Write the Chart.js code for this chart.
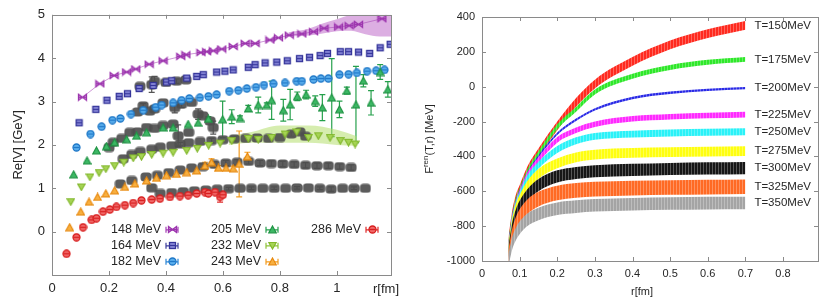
<!DOCTYPE html>
<html>
<head>
<meta charset="utf-8">
<script src="https://cdn.jsdelivr.net/npm/chart.js@4.4.1/dist/chart.umd.min.js"></script>
<style>
  html, body { margin: 0; padding: 0; background: #fff; }
  #wrap { position: relative; width: 830px; height: 303px; overflow: hidden; }
  canvas { position: absolute; top: 0; }
  #left { left: 0; }
  #right { left: 410px; }
</style>
</head>
<body>
<div id="wrap">
  <canvas id="left" width="410" height="303"></canvas>
  <canvas id="right" width="420" height="303"></canvas>
</div>
<script>
// ---------- left panel: Re[V] (GeV) vs r (fm) ----------
const r148 = [0.107,0.168,0.218,0.262,0.294,0.341,0.39,0.452,0.47,0.523,0.543,0.566,0.596,0.636,0.678,0.713,0.765,0.795,0.833,0.877,0.918,0.955,1.006,1.043,1.076,1.158];
const v148 = [3.10,3.41,3.60,3.68,3.75,3.86,3.94,4.04,4.08,4.13,4.15,4.17,4.21,4.27,4.34,4.34,4.42,4.47,4.53,4.56,4.61,4.69,4.72,4.75,4.78,4.91];

const r164 = [0.095,0.154,0.193,0.236,0.265,0.306,0.355,0.402,0.42,0.473,0.508,0.531,0.578,0.607,0.636,0.689,0.713,0.748,0.789,0.826,0.869,0.904,0.941,0.967,1.012,1.041,1.076,1.115,1.152,1.187];
const v164 = [2.51,2.82,3.03,3.12,3.18,3.30,3.37,3.45,3.48,3.54,3.58,3.62,3.68,3.70,3.73,3.79,3.85,3.89,3.91,3.94,3.99,4.02,4.06,4.11,4.15,4.15,4.14,4.11,4.24,4.32];

const r182 = [0.086,0.135,0.174,0.212,0.24,0.277,0.32,0.364,0.385,0.425,0.455,0.482,0.519,0.549,0.578,0.622,0.654,0.684,0.716,0.744,0.777,0.818,0.859,0.877,0.918,0.944,0.97,1.009,1.041,1.07,1.106,1.138,1.167];
const v182 = [1.94,2.25,2.42,2.57,2.61,2.71,2.80,2.87,2.92,2.97,3.03,3.07,3.09,3.12,3.16,3.24,3.26,3.30,3.33,3.38,3.41,3.43,3.47,3.47,3.51,3.53,3.53,3.62,3.63,3.66,3.70,3.71,3.73];

const r205 = [0.076,0.123,0.156,0.191,0.22,0.262,0.297,0.332,0.39,0.425,0.478,0.513,0.549,0.599,0.631,0.66,0.689,0.724,0.754,0.771,0.812,0.836,0.861,0.892,0.924,0.949,0.982,1.009,1.035,1.067,1.093,1.12,1.152,1.179];
const v205 = [1.32,1.64,1.87,1.97,2.06,2.13,2.21,2.29,2.40,2.40,2.48,2.51,2.60,2.59,2.65,2.62,2.84,2.92,2.92,3.03,2.80,2.93,3.12,3.16,3.01,2.86,3.09,2.82,3.25,2.93,3.48,2.97,3.68,3.28];
const e205 = [0,0,0,0,0,0,0,0,0,0,0,0,0.05,0.42,0.16,0.05,0.07,0.18,0.05,0.44,0.25,0.35,0.10,0.10,0.12,0.30,0.90,0.19,0.08,0.88,0.14,0.28,0.17,0.18];

const r232 = [0.066,0.103,0.133,0.165,0.189,0.22,0.252,0.285,0.314,0.35,0.39,0.425,0.473,0.51,0.55,0.59,0.631,0.689,0.724,0.771,0.818,0.859,0.9,0.935,0.976,1.012,1.041,1.064];
const v232 = [0.69,1.03,1.26,1.36,1.45,1.52,1.60,1.70,1.73,1.78,1.81,1.83,1.87,1.92,1.99,2.04,2.10,2.15,2.13,2.17,2.25,2.30,2.17,2.21,2.17,2.10,2.06,2.02];

const r243 = [0.062,0.101,0.130,0.160,0.189,0.22,0.256,0.291,0.332,0.367,0.402,0.437,0.473,0.508,0.537,0.56,0.584,0.611,0.636,0.657,0.686];
const v243 = [0.10,0.46,0.69,0.80,0.88,0.95,1.03,1.11,1.18,1.24,1.30,1.33,1.37,1.41,1.52,1.60,1.47,1.47,1.46,1.56,1.73];
const e243 = [0,0,0,0,0,0,0,0,0,0,0,0,0,0,0.08,0.08,0.05,0.05,0.05,0.76,0.10];

const r286 = [0.051,0.086,0.109,0.139,0.156,0.179,0.203,0.226,0.256,0.285,0.314,0.35,0.379,0.414,0.449,0.478,0.508,0.537,0.549,0.572,0.59,0.60];
const v286 = [-0.51,-0.13,0.10,0.27,0.31,0.46,0.51,0.57,0.61,0.66,0.72,0.74,0.76,0.80,0.82,0.84,0.88,0.91,0.88,0.91,0.80,0.85];
const e286 = [0,0,0,0,0,0,0,0,0,0,0,0,0,0,0,0,0,0,0,0,0.12,0.05];

// grey comparison points (no key entry)
const grayR1 = [0.309,0.35,0.36,0.40,0.437,0.47];
const grayV1 = [3.35,3.39,3.47,3.44,3.47,3.50];
const grayE1 = [0,0.18,0.11,0,0.05,0];
const grayR2 = [0.30,0.32,0.343,0.36,0.39,0.431,0.455,0.49];
const grayV2 = [2.76,2.90,2.78,2.83,2.97,2.86,2.94,2.98];
const grayE2 = [0,0.05,0,0,0,0.12,0.08,0];
const grayR3 = [0.20,0.215,0.245,0.273,0.30,0.332,0.36,0.39,0.425,0.443,0.48,0.513,0.53,0.555,0.566];
const grayV3 = [1.94,2.06,2.15,2.29,2.30,2.40,2.38,2.45,2.48,2.21,2.29,2.71,2.67,2.55,2.40];
const grayE3 = [0,0,0,0,0,0,0,0,0,0.25,0,0.12,0,0,0.15];
const grayR4 = [0.25,0.28,0.31,0.35,0.38,0.42,0.45,0.48,0.52,0.56,0.60,0.64,0.68,0.72,0.76,0.80,0.84,0.87,0.89];
const grayV4 = [1.68,1.78,1.85,1.90,1.95,1.98,2.02,2.05,2.08,2.10,2.12,2.14,2.15,2.16,2.15,2.17,2.25,2.30,2.20];
const grayE4 = [0,0,0,0,0,0,0.04,0,0,0.05,0,0.05,0,0.04,0,0,0.05,0,0];
const grayR5 = [0.24,0.28,0.33,0.37,0.41,0.45,0.49,0.53,0.57,0.61,0.65,0.69,0.73,0.77,0.81,0.85,0.89,0.93,0.97,1.01,1.05];
const grayV5 = [1.10,1.18,1.26,1.30,1.36,1.42,1.47,1.50,1.55,1.58,1.60,1.62,1.58,1.57,1.56,1.55,1.53,1.52,1.52,1.50,1.48];
const grayE5 = [0,0,0,0,0,0,0,0.06,0.06,0.06,0.06,0.06,0.06,0.06,0.06,0.06,0.06,0.06,0.06,0.06,0.06];
const grayR6 = [0.35,0.38,0.42,0.46,0.50,0.54,0.58,0.62,0.66,0.70,0.74,0.78,0.82,0.86,0.90,0.94,0.98,1.02,1.06,1.10];
const grayV6 = [1.01,0.88,0.90,0.92,0.94,0.96,0.98,0.99,1.00,1.00,1.00,1.00,1.00,1.01,1.01,1.00,0.98,1.00,1.00,1.00];
const grayE6 = [0,0,0,0,0,0,0,0.03,0,0.03,0,0.03,0,0.03,0,0.03,0.05,0,0.03,0];

// shaded error bands
const rBand148  = [0.83,0.90,0.95,1.00,1.05,1.10,1.15,1.19];
const hiBand148 = [4.60,4.68,4.80,4.90,5.00,5.05,5.10,5.10];
const loBand148 = [4.50,4.52,4.57,4.62,4.63,4.55,4.50,4.50];
const rBand232  = [0.62,0.70,0.80,0.90,1.00,1.07];
const hiBand232 = [2.20,2.30,2.45,2.45,2.35,2.20];
const loBand232 = [2.00,2.05,2.05,2.05,2.00,1.98];

// ---------- right panel: F_ren(T,r) (MeV) vs r (fm) ----------
const rF = [0.07,0.08,0.09,0.10,0.12,0.15,0.20,0.25,0.30,0.40,0.50,0.60,0.70];
const F150 = [-900,-740,-645,-590,-485,-380,-225,-90,15,145,240,305,352];
const F175 = [-905,-745,-650,-595,-490,-385,-230,-130,-30,60,110,140,157];
const F200 = [-910,-750,-660,-600,-500,-400,-270,-190,-130,-65,-35,-18,-8];
const F225 = [-920,-760,-670,-610,-510,-420,-305,-250,-215,-184,-172,-165,-160];
const F250 = [-930,-770,-680,-625,-530,-450,-360,-310,-285,-272,-265,-261,-258];
const F275 = [-940,-790,-700,-650,-570,-500,-440,-405,-390,-380,-375,-372,-370];
const F300 = [-960,-820,-740,-690,-625,-565,-515,-495,-485,-477,-472,-469,-467];
const F325 = [-980,-860,-790,-745,-690,-645,-610,-595,-588,-582,-578,-576,-574];
const F350 = [-1000,-900,-845,-810,-765,-730,-700,-688,-680,-674,-670,-668,-667];
const tempsF = [150,175,200,225,250,275,300,325,350];
const halfWidthF = [25,14,7,16,20,28,35,42,36];

const FONT = "'Liberation Sans', Arial, Helvetica, sans-serif";
const TXT = "#262626";

// marker images
function makeMarker(w, h, draw) {
  const c = document.createElement("canvas");
  c.width = w; c.height = h;
  const g = c.getContext("2d");
  draw(g, w, h);
  return c;
}
const mkBow = (col, fill) => makeMarker(11, 9, g => {
  g.strokeStyle = col; g.fillStyle = fill; g.lineWidth = 1.3;
  g.beginPath(); g.moveTo(1.5, 1.5); g.lineTo(9.5, 7.5); g.lineTo(9.5, 1.5); g.lineTo(1.5, 7.5); g.closePath();
  g.fill(); g.stroke();
  g.beginPath(); g.moveTo(1.5, 4.5); g.lineTo(9.5, 4.5); g.stroke();
});
const mkSquare = (col, fill) => makeMarker(9, 9, g => {
  g.fillStyle = fill; g.fillRect(1, 1, 7, 7);
  g.strokeStyle = col; g.lineWidth = 1.3; g.strokeRect(1.5, 1.5, 6, 6);
  g.beginPath(); g.moveTo(2, 4.5); g.lineTo(7, 4.5); g.stroke();
});
const mkCircle = (col, fill) => makeMarker(9, 9, g => {
  g.fillStyle = fill; g.strokeStyle = col; g.lineWidth = 1.3;
  g.beginPath(); g.arc(4.5, 4.5, 3.5, 0, Math.PI * 2); g.fill(); g.stroke();
  g.beginPath(); g.moveTo(1.5, 4.5); g.lineTo(7.5, 4.5); g.stroke();
});
const mkTriUp = (col, fill) => makeMarker(9, 9, g => {
  g.fillStyle = fill; g.strokeStyle = col; g.lineWidth = 1.2;
  g.beginPath(); g.moveTo(4.5, 1); g.lineTo(8.2, 7.8); g.lineTo(0.8, 7.8); g.closePath(); g.fill(); g.stroke();
});
const mkTriDown = (col, fill) => makeMarker(9, 9, g => {
  g.fillStyle = fill; g.strokeStyle = col; g.lineWidth = 1.2;
  g.beginPath(); g.moveTo(0.8, 1.5); g.lineTo(8.2, 1.5); g.lineTo(4.5, 8); g.closePath(); g.fill(); g.stroke();
});
const mkGray = makeMarker(12, 10, g => {
  g.fillStyle = "rgba(78,78,78,0.92)";
  g.beginPath(); g.roundRect(0.5, 0.5, 11, 9, 3.5); g.fill();
});

const pts = (r, v) => r.map((x, i) => ({ x, y: v[i] }));

const leftSeries = [
  { label: "286 MeV", r: r286, v: v286, e: e286, color: "#e02a2a", marker: mkCircle("#d81e1e", "#f26a6a") },
  { label: "243 MeV", r: r243, v: v243, e: e243, color: "#f39c1f", marker: mkTriUp("#e8890e", "#f8b040") },
  { label: "232 MeV", r: r232, v: v232, e: null, color: "#8fc43a", marker: mkTriDown("#82b82c", "#a6d454") },
  { label: "205 MeV", r: r205, v: v205, e: e205, color: "#26a04c", marker: mkTriUp("#1f9444", "#3cb864") },
  { label: "182 MeV", r: r182, v: v182, e: null, color: "#2b86d6", marker: mkCircle("#1f78c8", "#5cb0ee") },
  { label: "164 MeV", r: r164, v: v164, e: null, color: "#3c3c9c", marker: mkSquare("#35359a", "#8c8cdc") },
  { label: "148 MeV", r: r148, v: v148, e: null, color: "#a53fb5", marker: mkBow("#9c34ae", "rgba(200,130,210,0.7)"), line: true }
];
const grayGroups = [
  [grayR1, grayV1, grayE1], [grayR2, grayV2, grayE2], [grayR3, grayV3, grayE3],
  [grayR4, grayV4, grayE4], [grayR5, grayV5, grayE5], [grayR6, grayV6, grayE6]
];

const leftDatasets = [];
leftSeries.forEach(s => {
  leftDatasets.push({
    label: s.label, data: pts(s.r, s.v), errors: s.e, errColor: s.color,
    showLine: !!s.line, borderColor: s.color + "b0", borderWidth: 0.8,
    pointStyle: s.marker, pointRadius: 4
  });
});
grayGroups.forEach(([r, v, e]) => {
  leftDatasets.push({ data: pts(r, v), errors: e, errColor: "#555", showLine: false, pointStyle: mkGray, pointRadius: 4 });
});
// bands (bottom-most)
[[rBand232, hiBand232, loBand232, "rgba(180,222,110,0.55)"], [rBand148, hiBand148, loBand148, "rgba(196,120,206,0.6)"]].forEach(([r, hi, lo, col]) => {
  leftDatasets.push({ data: pts(r, hi), pointRadius: 0, borderWidth: 0, borderColor: "transparent", cubicInterpolationMode: "monotone", showLine: true });
  leftDatasets.push({ data: pts(r, lo), pointRadius: 0, borderWidth: 0, borderColor: "transparent", cubicInterpolationMode: "monotone", showLine: true, fill: "-1", backgroundColor: col });
});

// draws vertical error bars under the markers
const errorBars = {
  id: "errorBars",
  beforeDatasetsDraw(chart) {
    const { ctx, chartArea: a, scales: { x, y } } = chart;
    ctx.save();
    ctx.beginPath(); ctx.rect(a.left, a.top, a.width, a.height); ctx.clip();
    chart.data.datasets.forEach(ds => {
      if (!ds.errors) return;
      ctx.strokeStyle = ds.errColor; ctx.lineWidth = 1.2;
      ds.data.forEach((p, i) => {
        const e = ds.errors[i];
        if (!e) return;
        const px = x.getPixelForValue(p.x);
        const y1 = y.getPixelForValue(p.y - e), y2 = y.getPixelForValue(p.y + e);
        ctx.beginPath();
        ctx.moveTo(px, y1); ctx.lineTo(px, y2);
        ctx.moveTo(px - 3, y1); ctx.lineTo(px + 3, y1);
        ctx.moveTo(px - 3, y2); ctx.lineTo(px + 3, y2);
        ctx.stroke();
      });
    });
    ctx.restore();
  }
};

// box round the plot with inward ticks on all four sides
const frame = {
  id: "frame",
  afterDatasetsDraw(chart) {
    const { ctx, chartArea: a, scales: { x, y } } = chart;
    ctx.save();
    ctx.strokeStyle = "#8a8a8a"; ctx.lineWidth = 1;
    ctx.strokeRect(Math.round(a.left) + 0.5, Math.round(a.top) + 0.5, Math.round(a.width), Math.round(a.height));
    ctx.beginPath();
    x.ticks.forEach(t => {
      const px = Math.round(x.getPixelForValue(t.value)) + 0.5;
      ctx.moveTo(px, a.bottom); ctx.lineTo(px, a.bottom - 4);
      ctx.moveTo(px, a.top); ctx.lineTo(px, a.top + 4);
    });
    y.ticks.forEach(t => {
      const py = Math.round(y.getPixelForValue(t.value)) + 0.5;
      ctx.moveTo(a.left, py); ctx.lineTo(a.left + 4, py);
      ctx.moveTo(a.right, py); ctx.lineTo(a.right - 4, py);
    });
    ctx.stroke();
    ctx.restore();
  }
};

const leftText = {
  id: "leftText",
  afterDraw(chart) {
    const { ctx, chartArea: a } = chart;
    ctx.save();
    ctx.fillStyle = TXT;
    ctx.font = "13px " + FONT;
    ctx.textBaseline = "middle";
    ctx.textAlign = "center";
    ctx.fillText("r[fm]", a.right - 5, 289);
    ctx.translate(18, (a.top + a.bottom) / 2);
    ctx.rotate(-Math.PI / 2);
    ctx.fillText("Re[V] [GeV]", 0, 0);
    ctx.restore();

    // key: three columns
    const order = ["148 MeV", "164 MeV", "182 MeV", "205 MeV", "232 MeV", "243 MeV", "286 MeV"];
    ctx.save();
    ctx.font = "12.5px " + FONT;
    ctx.textBaseline = "middle";
    order.forEach((lab, k) => {
      const s = leftSeries.find(q => q.label === lab);
      const col = Math.floor(k / 3), row = k % 3;
      const tx = a.left + 59 + col * 100, ty = a.top + 215 + row * 16;
      ctx.fillStyle = TXT;
      ctx.fillText(lab, tx, ty);
      const mx = a.left + 120 + col * 100;
      ctx.strokeStyle = s.color; ctx.lineWidth = 1.2;
      ctx.beginPath();
      ctx.moveTo(mx - 6, ty); ctx.lineTo(mx + 6, ty);
      ctx.moveTo(mx - 6, ty - 3); ctx.lineTo(mx - 6, ty + 3);
      ctx.moveTo(mx + 6, ty - 3); ctx.lineTo(mx + 6, ty + 3);
      ctx.stroke();
      ctx.drawImage(s.marker, Math.round(mx - s.marker.width / 2), Math.round(ty - s.marker.height / 2));
    });
    ctx.restore();
  }
};

const fmt1 = v => String(Number(v.toFixed(1)));

new Chart(document.getElementById("left"), {
  type: "line",
  data: { datasets: leftDatasets },
  options: {
    responsive: false, animation: false, devicePixelRatio: 1,
    layout: { padding: { top: 13, right: 19, left: 0, bottom: 0 } },
    plugins: { legend: { display: false }, tooltip: { enabled: false } },
    scales: {
      x: {
        type: "linear", min: 0, max: 1.19,
        ticks: { stepSize: 0.2, includeBounds: false, padding: 6, color: TXT, font: { family: FONT, size: 13 }, callback: fmt1, maxRotation: 0 },
        grid: { display: false, drawTicks: false }, border: { display: false },
        afterFit: s => { s.height = 28; }
      },
      y: {
        min: -1, max: 5,
        ticks: { stepSize: 1, includeBounds: false, padding: 7, color: TXT, font: { family: FONT, size: 13 }, callback: v => (v < 0 ? "" : String(v)) },
        grid: { display: false, drawTicks: false }, border: { display: false },
        afterFit: s => { s.width = 52; }
      }
    }
  },
  plugins: [errorBars, frame, leftText]
});

// ---------- right panel ----------
const rightCtx = document.getElementById("right").getContext("2d");
function hatch(color) {
  const c = document.createElement("canvas");
  c.width = 3; c.height = 4;
  const g = c.getContext("2d");
  g.fillStyle = color; g.fillRect(0, 0, 3, 4);
  g.fillStyle = "rgba(255,255,255,0.28)"; g.fillRect(2, 0, 1, 4);
  return rightCtx.createPattern(c, "repeat");
}
const seriesF = [F150, F175, F200, F225, F250, F275, F300, F325, F350];
const colorsF = ["#ff2a1f", "#2fe82a", "#2a2ae6", "#ff2aff", "#2af2f8", "#ffff10", "#161616", "#ff6a24", "#a4a4a4"];

const rightDatasets = [];
// highest temperature first so it ends up on top
for (let k = tempsF.length - 1; k >= 0; k--) {
  const vals = seriesF[k], hw = halfWidthF[k];
  rightDatasets.push({
    data: pts(rF, vals.map(v => v + hw)), pointRadius: 0, borderWidth: 0, borderColor: "transparent",
    cubicInterpolationMode: "monotone"
  });
  rightDatasets.push({
    data: pts(rF, vals.map(v => v - hw)), pointRadius: 0, borderWidth: 0, borderColor: "transparent",
    cubicInterpolationMode: "monotone", fill: "-1", backgroundColor: hatch(colorsF[k])
  });
}

const rightText = {
  id: "rightText",
  afterDraw(chart) {
    const { ctx, chartArea: a, scales: { x, y } } = chart;
    ctx.save();
    ctx.fillStyle = TXT;
    ctx.font = "11.5px " + FONT;
    ctx.textBaseline = "middle";
    ctx.textAlign = "left";
    const lx = x.getPixelForValue(rF[rF.length - 1]) + 9;
    tempsF.forEach((t, k) => {
      const vals = seriesF[k];
      ctx.fillText("T=" + t + "MeV", lx, y.getPixelForValue(vals[vals.length - 1]));
    });
    ctx.textAlign = "center";
    ctx.font = "11px " + FONT;
    ctx.fillText("r[fm]", (a.left + a.right) / 2 - 8, 292);

    // y title with superscript
    ctx.translate(20, (a.top + a.bottom) / 2);
    ctx.rotate(-Math.PI / 2);
    ctx.textAlign = "left";
    const big = "11px " + FONT, small = "8px " + FONT;
    ctx.font = big; const w1 = ctx.measureText("F").width;
    ctx.font = small; const w2 = ctx.measureText("ren").width;
    ctx.font = big; const w3 = ctx.measureText("(T,r) [MeV]").width;
    let sx = -(w1 + w2 + w3) / 2;
    ctx.fillText("F", sx, 0); sx += w1;
    ctx.font = small; ctx.fillText("ren", sx, -4); sx += w2;
    ctx.font = big; ctx.fillText("(T,r) [MeV]", sx, 0);
    ctx.restore();
  }
};

new Chart(rightCtx, {
  type: "line",
  data: { datasets: rightDatasets },
  options: {
    responsive: false, animation: false, devicePixelRatio: 1,
    layout: { padding: { top: 17, right: 12, left: 0, bottom: 0 } },
    plugins: { legend: { display: false }, tooltip: { enabled: false } },
    scales: {
      x: {
        type: "linear", min: 0, max: 0.893,
        ticks: { stepSize: 0.1, includeBounds: false, padding: 6, color: TXT, font: { family: FONT, size: 11 }, callback: fmt1, maxRotation: 0 },
        grid: { display: false, drawTicks: false }, border: { display: false },
        afterFit: s => { s.height = 42; }
      },
      y: {
        min: -1000, max: 400,
        ticks: { stepSize: 200, padding: 7, color: TXT, font: { family: FONT, size: 11 }, callback: v => String(v) },
        grid: { display: false, drawTicks: false }, border: { display: false },
        afterFit: s => { s.width = 72; }
      }
    }
  },
  plugins: [frame, rightText]
});
</script>
</body>
</html>
